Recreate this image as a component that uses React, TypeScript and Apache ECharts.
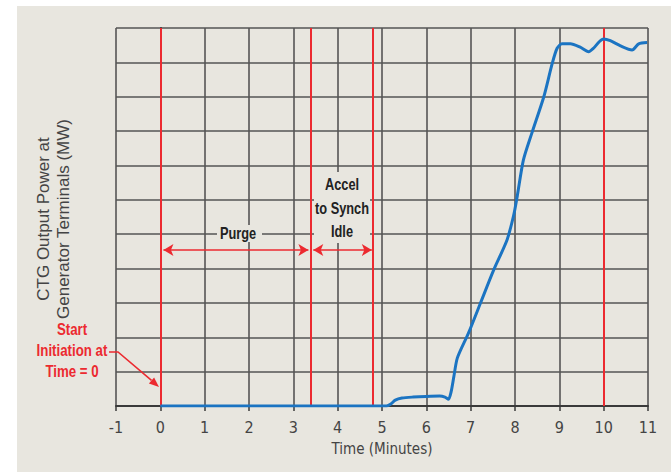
import React, { useEffect, useRef } from "react";
import * as echarts from "echarts";

// Curve: time (minutes) vs output power (grid units)
const timeMinutes = [0, 2, 4, 5.1, 5.2, 5.3, 5.45, 5.7, 6.0, 6.3, 6.42, 6.5, 6.56, 6.62, 6.7, 6.95, 7.22, 7.52, 7.82, 7.97, 8.05, 8.19, 8.38, 8.65, 8.84, 8.95, 9.06, 9.25, 9.47, 9.66, 9.77, 9.9, 10.0, 10.15, 10.38, 10.64, 10.79, 10.98];
const powerValues = [0, 0, 0, 0, 0.06, 0.17, 0.23, 0.26, 0.28, 0.29, 0.26, 0.2, 0.42, 0.85, 1.4, 2.12, 2.99, 3.96, 4.83, 5.55, 6.1, 7.16, 7.94, 9.0, 9.97, 10.41, 10.54, 10.54, 10.44, 10.31, 10.41, 10.6, 10.68, 10.63, 10.48, 10.36, 10.54, 10.58];
const xTicks = [-1, 0, 1, 2, 3, 4, 5, 6, 7, 8, 9, 10, 11];
const phaseLines = [0, 3.4, 4.8, 10];
const purgeSpan = [0.07, 3.34];
const accelSpan = [3.45, 4.77];
const arrowLevel = 4.54;

const RED = "#ec2a30";
const BLUE = "#1b74c2";
const BG = "#e8e6df";
const FONT = '"DejaVu Sans Condensed", "DejaVu Sans", sans-serif';
const LFONT = '"Liberation Sans", Arial, sans-serif';

export default function App() {
  const ref = useRef<HTMLDivElement>(null);
  useEffect(() => {
    if (!ref.current) return;
    const chart = echarts.init(ref.current, undefined, { renderer: "svg" });
    const data = timeMinutes.map((t, i) => [t, powerValues[i]]);
    const tip = [159, 387];
    chart.setOption({
      animation: false,
      backgroundColor: "transparent",
      grid: { left: 116, right: 23, top: 28, bottom: 66 },
      xAxis: {
        type: "value",
        min: xTicks[0],
        max: xTicks[xTicks.length - 1],
        interval: 1,
        name: "Time (Minutes)",
        nameLocation: "middle",
        nameGap: 35,
        nameTextStyle: { color: "#444", fontSize: 15, fontFamily: FONT },
        axisLine: { show: true, lineStyle: { color: "#3a3a3a", width: 2 } },
        axisTick: { show: true, length: 5, lineStyle: { color: "#3a3a3a", width: 1.5 } },
        axisLabel: { color: "#444", fontSize: 16, fontFamily: FONT, margin: 13 },
        splitLine: { show: true, lineStyle: { color: "#555", width: 1.6 } },
      },
      yAxis: {
        type: "value",
        min: 0,
        max: 11,
        interval: 1,
        axisLine: { show: true, lineStyle: { color: "#3a3a3a", width: 2 } },
        axisTick: { show: false },
        axisLabel: { show: false },
        splitLine: { show: true, lineStyle: { color: "#555", width: 1.6 } },
      },
      series: [
        {
          type: "line",
          data,
          smooth: 0.25,
          symbol: "none",
          lineStyle: { color: BLUE, width: 3 },
          z: 5,
          markLine: {
            silent: true,
            symbol: "none",
            label: { show: false },
            lineStyle: { color: RED, width: 2, type: "solid" },
            data: phaseLines.map((v) => ({ xAxis: v })),
          },
        },
        {
          type: "line",
          data: [],
          markLine: {
            silent: true,
            symbol: ["arrow", "arrow"],
            symbolSize: [9, 10],
            label: { show: false },
            lineStyle: { color: RED, width: 1.5, type: "solid" },
            data: [
              [{ coord: [purgeSpan[0], arrowLevel] }, { coord: [purgeSpan[1], arrowLevel] }],
              [{ coord: [accelSpan[0], arrowLevel] }, { coord: [accelSpan[1], arrowLevel] }],
            ],
          },
        },
      ],
      graphic: [
        { type: "rect", z: 1, shape: { x: 217, y: 225, width: 45, height: 17 }, style: { fill: BG } },
        { type: "rect", z: 1, shape: { x: 314, y: 172, width: 56, height: 71 }, style: { fill: BG } },
        {
          type: "text", z: 10, x: 238, y: 233, scaleX: 0.8,
          style: { text: "Purge", fill: "#222", font: `bold 16px ${LFONT}`, align: "center", verticalAlign: "middle" },
        },
        {
          type: "text", z: 10, x: 342, y: 208, scaleX: 0.8,
          style: { text: "Accel\nto Synch\nIdle", fill: "#222", font: `bold 16px ${LFONT}`, align: "center", verticalAlign: "middle", lineHeight: 23.5 },
        },
        {
          type: "text", z: 10, x: 72, y: 351, scaleX: 0.83,
          style: { text: "Start\nInitiation at\nTime = 0", fill: RED, font: `bold 16px ${LFONT}`, align: "center", verticalAlign: "middle", lineHeight: 21 },
        },
        {
          type: "polyline", z: 10,
          shape: { points: [[109, 352], [118, 352], [151.5, 380.4]] },
          style: { stroke: RED, lineWidth: 1.6, fill: "none" },
        },
        {
          type: "polygon", z: 10,
          shape: { points: [tip, [148.9, 383.4], [154.1, 377.4]] },
          style: { fill: RED },
        },
        {
          type: "text", z: 10, x: 53, y: 219, rotation: Math.PI / 2,
          style: { text: "CTG Output Power at\nGenerator Terminals (MW)", fill: "#444", font: `17px ${LFONT}`, align: "center", verticalAlign: "middle", lineHeight: 20 },
        },
      ],
    });
    return () => chart.dispose();
  }, []);
  return (
    <div style={{ position: "fixed", left: 0, top: 0, width: 671, height: 472, background: "#fff" }}>
      <div style={{ position: "absolute", left: 17, top: 6, right: 0, bottom: 0, background: BG }} />
      <div ref={ref} style={{ position: "absolute", left: 0, top: 0, width: 671, height: 472 }} />
    </div>
  );
}
